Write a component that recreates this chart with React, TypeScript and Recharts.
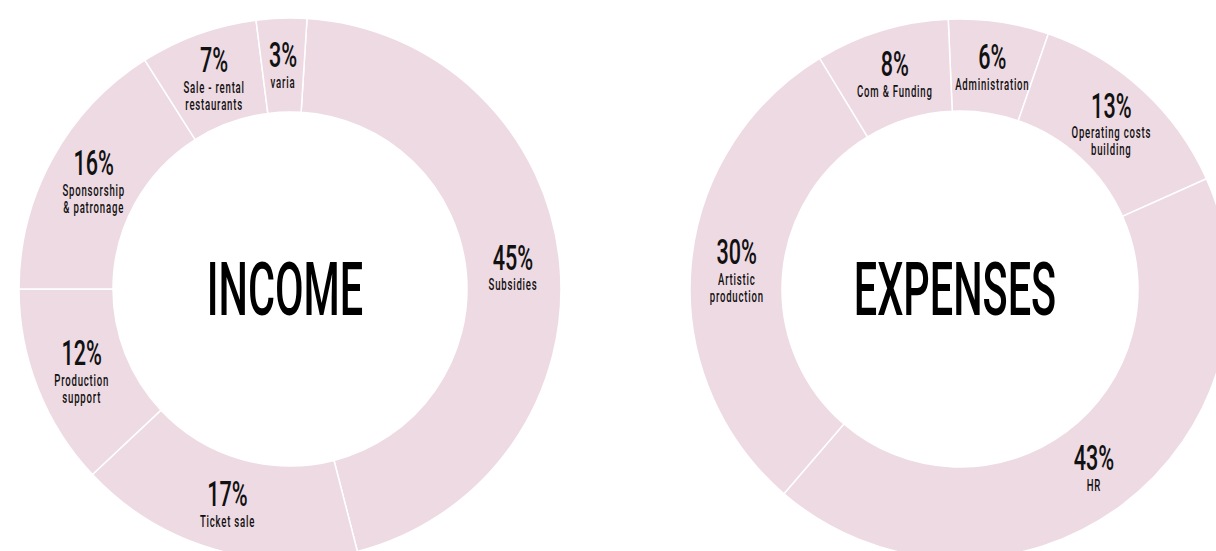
import { PieChart, Pie, Cell } from 'recharts';

// Income split (clockwise from the top)
const incomeNames = ['Subsidies', 'Ticket sale', 'Production\nsupport', 'Sponsorship\n& patronage', 'Sale - rental\nrestaurants', 'varia'];
const incomeValues = [45, 17, 12, 16, 7, 3];

// Expenses split (clockwise from the top)
const expenseNames = ['Administration', 'Operating costs\nbuilding', 'HR', 'Artistic\nproduction', 'Com & Funding'];
const expenseValues = [6, 13, 43, 30, 8];

const SLICE = '#eedae3';
const FONT = 'Roboto, "Noto Sans", sans-serif';
const RADIAN = Math.PI / 180;

const INCOME_C = { x: 285, y: 284 };
const EXPENSE_C = { x: 955, y: 284 };

const incomeData = incomeNames.map((name, i) => ({ name, value: incomeValues[i] }));
const expenseData = expenseNames.map((name, i) => ({ name, value: expenseValues[i] }));

/** Percent + caption, placed in the middle of the ring at the slice's mid angle */
function SliceLabel(props: any) {
  const { cx, cy, midAngle, innerRadius, outerRadius, name, value } = props;
  const r = (innerRadius + outerRadius) / 2;
  const x = cx + r * Math.cos(-midAngle * RADIAN);
  const y = cy + r * Math.sin(-midAngle * RADIAN);
  const lines = String(name).split('\n');
  const y0 = y - (lines.length === 1 ? 11 : 19);
  return (
    <g>
      <text
        transform={`translate(${x},${y0}) scale(0.6,1)`}
        textAnchor="middle"
        dominantBaseline="central"
        fontFamily={FONT}
        fontSize={36}
        fontWeight={500}
        fill="#111"
      >
        {`${value}%`}
      </text>
      {lines.map((line, i) => (
        <text
          key={line}
          transform={`translate(${x},${y0 + 28 + i * 17}) scale(0.6,1)`}
          textAnchor="middle"
          dominantBaseline="central"
          fontFamily={FONT}
          fontSize={16}
          fontWeight={500}
          letterSpacing={1.3}
          fill="#111"
        >
          {line}
        </text>
      ))}
    </g>
  );
}

function CenterTitle({ x, y, title }: { x: number; y: number; title: string }) {
  return (
    <text
      transform={`translate(${x},${y + 6}) scale(0.56,1)`}
      textAnchor="middle"
      dominantBaseline="central"
      fontFamily={FONT}
      fontSize={74}
      fontWeight={500}
      fill="#000"
    >
      {title}
    </text>
  );
}

export default function App() {
  return (
    <div style={{ position: 'absolute', left: 0, top: 0, width: 1216, height: 551, background: '#fff' }}>
      <PieChart width={1216} height={551}>
        <Pie
          data={incomeData}
          dataKey="value"
          cx={INCOME_C.x}
          cy={INCOME_C.y}
          innerRadius={177}
          outerRadius={271}
          startAngle={86.4}
          endAngle={-273.6}
          stroke="#ffffff"
          strokeWidth={1.5}
          label={SliceLabel}
          labelLine={false}
          isAnimationActive={false}
        >
          {incomeData.map((d) => (
            <Cell key={d.name} fill={SLICE} />
          ))}
        </Pie>
        <Pie
          data={expenseData}
          dataKey="value"
          cx={EXPENSE_C.x}
          cy={EXPENSE_C.y}
          innerRadius={178}
          outerRadius={270}
          startAngle={92.5}
          endAngle={-267.5}
          stroke="#ffffff"
          strokeWidth={1.5}
          label={SliceLabel}
          labelLine={false}
          isAnimationActive={false}
        >
          {expenseData.map((d) => (
            <Cell key={d.name} fill={SLICE} />
          ))}
        </Pie>
        <CenterTitle x={INCOME_C.x} y={INCOME_C.y} title="INCOME" />
        <CenterTitle x={EXPENSE_C.x} y={EXPENSE_C.y} title="EXPENSES" />
      </PieChart>
    </div>
  );
}
